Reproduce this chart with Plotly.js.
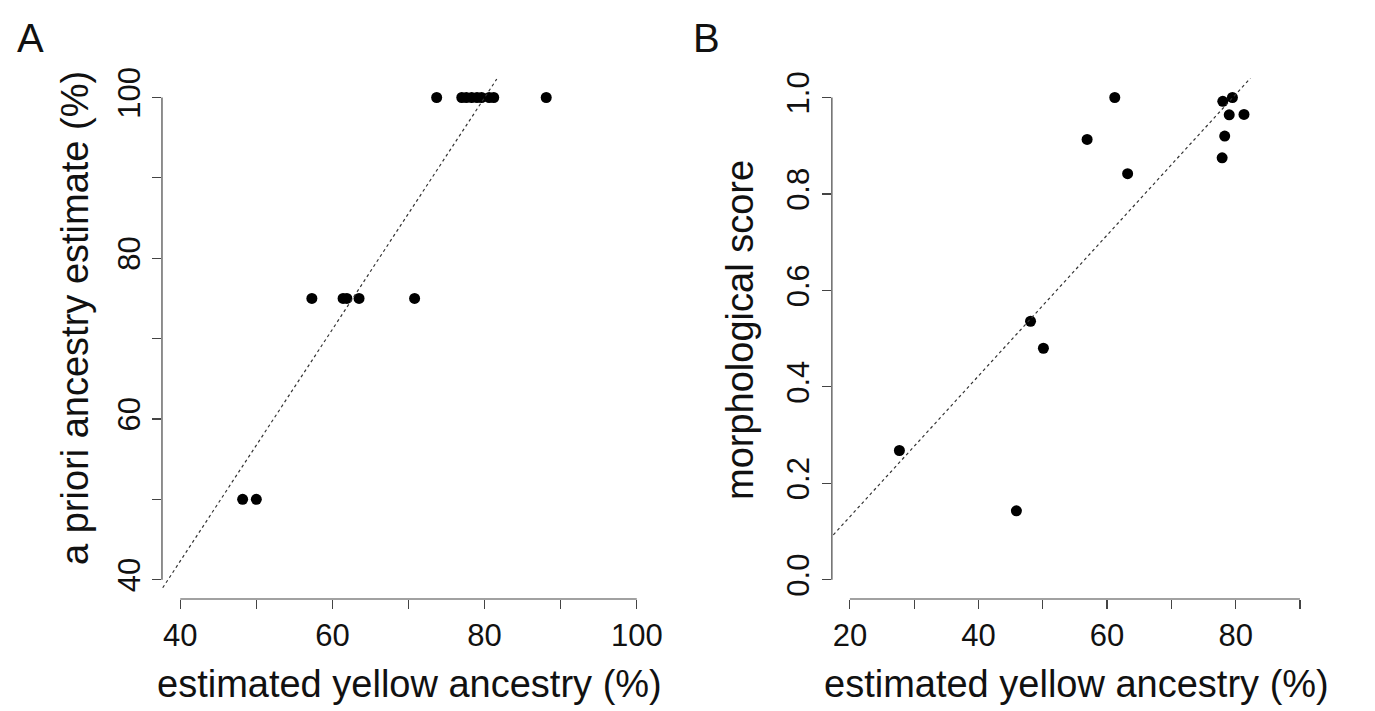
<!DOCTYPE html>
<html><head><meta charset="utf-8">
<script src="https://cdn.plot.ly/plotly-3.0.1.min.js"></script>
<style>body{margin:0;background:#fff}#c{width:1375px;height:711px}</style>
</head><body><div id="c"></div>
<script>
// Panel A data
const ancestryA = [73.7,77.0,77.6,78.3,79.0,79.6,80.6,81.2,88.1,57.3,61.4,61.9,63.5,70.8,48.2,50.0];
const aprioriA  = [100,100,100,100,100,100,100,100,100,75,75,75,75,75,50,50];
const fitA_x = [37.7,81.6];
const fitA_y = [39.0,102.3];
// Panel B data
const ancestryB = [61.2,78.0,79.5,79.0,81.3,78.3,77.9,56.9,63.2,48.1,50.1,27.7,45.9];
const morphB    = [1.0,0.992,1.0,0.964,0.965,0.920,0.875,0.913,0.842,0.536,0.480,0.268,0.143];
const fitB_x = [16.8,82.3];
const fitB_y = [0.084,1.040];
// Ticks
const ticksAx = [40,50,60,70,80,90,100], labelsAx = ['40','','60','','80','','100'];
const ticksAy = [40,50,60,70,80,90,100], labelsAy = ['40','','60','','80','','100'];
const ticksBx = [20,30,40,50,60,70,80,90], labelsBx = ['20','','40','','60','','80',''];
const ticksBy = [0,0.2,0.4,0.6,0.8,1.0], labelsBy = ['0.0','0.2','0.4','0.6','0.8','1.0'];

const F = 'Liberation Sans, Arial, sans-serif';
const mk = {color:'#000', size:11};
const ln = {color:'#333', width:1.2, dash:'3px,3px'};
const traces = [
 {x:ancestryA, y:aprioriA, mode:'markers', marker:mk, xaxis:'x', yaxis:'y'},
 {x:fitA_x, y:fitA_y, mode:'lines', line:ln, xaxis:'x', yaxis:'y'},
 {x:ancestryB, y:morphB, mode:'markers', marker:mk, xaxis:'x2', yaxis:'y2'},
 {x:fitB_x, y:fitB_y, mode:'lines', line:ln, xaxis:'x2', yaxis:'y2'}
];
const ax = (dom, rng, tv, tt, anchor, isY) => ({
  domain:dom, range:rng, tickmode:'array', tickvals:tv, ticktext:tt, anchor:anchor,
  showgrid:false, zeroline:false, showline:false, ticks:'outside', ticklen:9, tickwidth:1.2,
  tickcolor:'#444', tickfont:{family:F, size:31, color:'#111'}, tickangle:isY?-90:0,
  fixedrange:true
});
const yd = [0.1575, 0.890];
const T = (text,x,y,size,ang) => ({text:text,xref:'paper',yref:'paper',x:x/1375,y:1-y/711,xanchor:'center',yanchor:'middle',
  textangle:ang||0,showarrow:false,font:{family:F,size:size,color:'#111'}});
const layout = {
  width:1375, height:711, margin:{l:0,r:0,t:0,b:0}, showlegend:false,
  paper_bgcolor:'#fff', plot_bgcolor:'#fff',
  xaxis: ax([0.1178,0.4764],[37.6,102.4],ticksAx,labelsAx,'y',false),
  yaxis: ax(yd,[37.6,102.4],ticksAy,labelsAy,'x',true),
  xaxis2: ax([0.605,0.9585],[17.2,92.8],ticksBx,labelsBx,'y2',false),
  yaxis2: ax(yd,[-0.04,1.04],ticksBy,labelsBy,'x2',true),
  shapes:[
    {type:'line',xref:'x',yref:'paper',x0:40,x1:100,y0:yd[0],y1:yd[0],line:{color:'#444',width:1.2}},
    {type:'line',xref:'paper',yref:'y',x0:0.1178,x1:0.1178,y0:40,y1:100,line:{color:'#444',width:1.2}},
    {type:'line',xref:'x2',yref:'paper',x0:20,x1:90,y0:yd[0],y1:yd[0],line:{color:'#444',width:1.2}},
    {type:'line',xref:'paper',yref:'y2',x0:0.605,x1:0.605,y0:0,y1:1,line:{color:'#444',width:1.2}}
  ],
  annotations:[
    T('A',30,38,40), T('B',706,38,40),
    T('estimated yellow ancestry (%)',410,684,38),
    T('estimated yellow ancestry (%)',1076,684,38),
    T('a priori ancestry estimate (%)',75,318,38,-90),
    T('morphological score',740,330,38,-90)
  ]
};
Plotly.newPlot('c', traces, layout, {staticPlot:true});
</script></body></html>
